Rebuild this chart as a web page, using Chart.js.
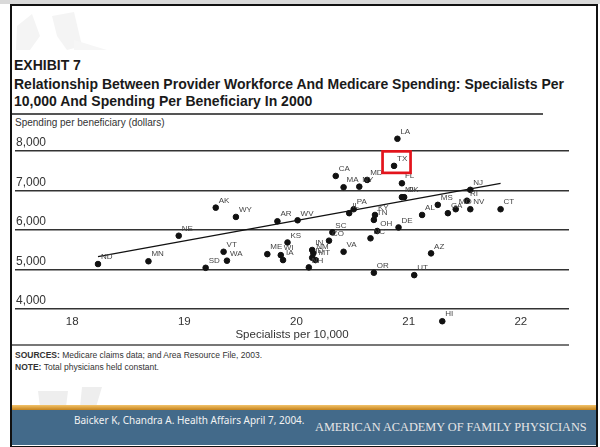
<!DOCTYPE html>
<html>
<head>
<meta charset="utf-8">
<script src="https://cdn.jsdelivr.net/npm/chart.js@4.4.1/dist/chart.umd.min.js"></script>
<style>
  html, body { margin: 0; padding: 0; background: #fff; }
  #slide { position: relative; width: 600px; height: 447px; overflow: hidden; background: #fff; font-family: "Liberation Sans", Arial, sans-serif; }
  #topstrip { position: absolute; left: 0; top: 0; width: 600px; height: 4px; background: #d9d9d9; }
  #frame { position: absolute; left: 10px; top: 4px; width: 584px; height: 440px; border: 2px solid #111; }
  .txt { position: absolute; white-space: nowrap; }
  .head { font-family: "Liberation Sans Narrow", "Arial Narrow", sans-serif; font-weight: bold; font-size: 14px; color: #1a1a1a; }
  #rule1 { position: absolute; left: 12px; top: 113px; width: 531px; height: 1.5px; background: #555; }
  #rule2 { position: absolute; left: 12px; top: 344px; width: 557px; height: 2px; background: #777; }
  #footer { position: absolute; left: 12px; top: 405px; width: 584px; height: 40px; background: #436a8a; }
  #orange { position: absolute; left: 0; top: 0; width: 100%; height: 5px; background: linear-gradient(#f3c36a, #c4821c); }
  canvas { position: absolute; left: 0; top: 0; }
</style>
</head>
<body>
<div id="slide">
  <div id="topstrip"></div>
  <svg style="position:absolute;left:12px;top:6px" width="110" height="50">
    <polygon points="5,20 20,8 28,30 18,44 4,44" fill="#f4f4f4"/>
    <polygon points="40,10 62,6 70,40 55,44 45,30" fill="#f4f4f4"/>
    <polygon points="62,34 95,44 62,44" fill="#f6f6f6"/>
  </svg>
  <svg style="position:absolute;left:30px;top:385px" width="90" height="22">
    <polygon points="8,6 38,6 36,22 10,22" fill="#eeeeee"/>
    <polygon points="52,2 72,2 66,22 50,22" fill="#eeeeee"/>
  </svg>
  <div id="frame"></div>
  <div class="txt head" style="left:14px;top:57px;">EXHIBIT 7</div>
  <div class="txt head" style="left:14px;top:76px;">Relationship Between Provider Workforce And Medicare Spending: Specialists Per</div>
  <div class="txt head" style="left:14px;top:93px;">10,000 And Spending Per Beneficiary In 2000</div>
  <div id="rule1"></div>
  <div class="txt" style="left:15px;top:117px;font-size:10px;color:#333;">Spending per beneficiary (dollars)</div>
  <div id="rule2"></div>
  <div class="txt" style="left:15px;top:350px;font-size:8.5px;color:#333;"><b>SOURCES:</b> Medicare claims data; and Area Resource File, 2003.</div>
  <div class="txt" style="left:15px;top:362px;font-size:8.5px;color:#333;"><b>NOTE:</b> Total physicians held constant.</div>
  <div id="footer">
    <div id="orange"></div>
    <div class="txt" style="left:62px;top:8px;font-family:'Noto Sans',sans-serif;font-size:10px;color:#f2f2f2;">Baicker K, Chandra A. Health Affairs April 7, 2004.</div>
    <div class="txt" style="left:303px;top:15px;font-family:'Liberation Serif',serif;font-size:12.3px;color:#e6e6e6;">AMERICAN ACADEMY OF FAMILY PHYSICIANS</div>
  </div>
  <canvas id="chart" width="600" height="447"></canvas>
</div>
<script>
const states = ['ND','MN','NE','AK','WY','SD','VT','WA','ME','WI','IA','KS','AR','WV',
  'IN','NM','ID','MT','NH','CO','SC','VA','CA','MA','NY','MD','IL','PA','KY','TN','OH','NC',
  'OR','DE','LA','TX','FL','MI','OK','UT','AZ','AL','MS','GA','MO','RI','NJ','NV','CT','HI'];
const specialists = [18.23,18.68,18.95,19.28,19.46,19.19,19.35,19.38,19.74,19.86,19.88,19.92,19.83,20.01,
  20.14,20.15,20.14,20.17,20.11,20.29,20.32,20.42,20.35,20.42,20.56,20.63,20.47,20.51,20.70,20.69,20.72,20.66,
  20.69,20.91,20.90,20.87,20.94,20.94,20.96,21.05,21.20,21.12,21.26,21.35,21.42,21.52,21.55,21.55,21.82,21.30];
const spending = [5140,5210,5855,6565,6330,5045,5450,5225,5390,5365,5240,5685,6220,6245,
  5495,5410,5300,5240,5055,5730,5940,5450,7365,7080,7095,7265,6425,6525,6380,6255,5975,5790,
  4920,6065,8305,7620,7180,6830,6830,4860,5410,6380,6635,6425,6525,6740,7015,6525,6525,3695];
// fitted line end points
const trendX = [18.23, 21.82];
const trendY = [5325, 7180];
const yTicks = [4000, 5000, 6000, 7000, 8000];
const xTicks = [18, 19, 20, 21, 22];
const highlighted = 'TX';

const points = states.map((s, i) => ({x: specialists[i], y: spending[i]}));
const trend = trendX.map((x, i) => ({x: x, y: trendY[i]}));

const stateLabels = {
  id: 'stateLabels',
  afterDatasetsDraw(chart) {
    const ctx = chart.ctx;
    const meta = chart.getDatasetMeta(1);
    ctx.save();
    ctx.font = '8px "Liberation Sans", Arial, sans-serif';
    ctx.fillStyle = '#444';
    ctx.textAlign = 'left';
    ctx.textBaseline = 'middle';
    meta.data.forEach((pt, i) => {
      ctx.fillText(states[i], pt.x + 3, pt.y - 7);
    });
    // red box round the highlighted state
    const k = states.indexOf(highlighted);
    const p = meta.data[k];
    ctx.strokeStyle = '#e3141c';
    ctx.lineWidth = 2.7;
    ctx.strokeRect(p.x - 11.5, p.y - 14.5, 28, 21.5);
    ctx.restore();
  }
};

new Chart(document.getElementById('chart'), {
  type: 'scatter',
  data: {
    datasets: [{
      data: trend,
      showLine: true,
      borderColor: '#111',
      borderWidth: 1.3,
      pointRadius: 0,
      clip: false
    }, {
      data: points,
      backgroundColor: '#111',
      borderColor: '#111',
      pointRadius: 2.8,
      clip: false
    }]
  },
  options: {
    responsive: false,
    animation: false,
    layout: { padding: { left: 15, right: 31, top: 135, bottom: 102 } },
    plugins: { legend: { display: false }, tooltip: { enabled: false } },
    scales: {
      x: {
        type: 'linear',
        min: 17.49,
        max: 22.43,
        afterFit(scale) { scale.height = 20; },
        afterBuildTicks(scale) { scale.ticks = xTicks.map(v => ({value: v})); },
        grid: { display: false },
        border: { display: false },
        ticks: {
          mirror: true,
          padding: -4,
          color: '#333',
          font: { family: '"Liberation Sans", Arial, sans-serif', size: 11.5 }
        },
        title: {
          display: true,
          text: 'Specialists per 10,000',
          color: '#333',
          padding: { top: 0, bottom: 3 },
          font: { family: '"Liberation Sans", Arial, sans-serif', size: 11.5 }
        }
      },
      y: {
        min: 3600,
        max: 8400,
        afterFit(scale) { scale.width = 0; },
        afterBuildTicks(scale) { scale.ticks = yTicks.map(v => ({value: v})); },
        grid: { color: '#333', lineWidth: 1.4, drawTicks: false },
        border: { display: false },
        ticks: {
          mirror: true,
          padding: 1,
          labelOffset: -8,
          color: '#333',
          font: { family: '"Liberation Sans", Arial, sans-serif', size: 12 },
          callback: v => v.toLocaleString('en-US')
        }
      }
    }
  },
  plugins: [stateLabels]
});
</script>
</body>
</html>
